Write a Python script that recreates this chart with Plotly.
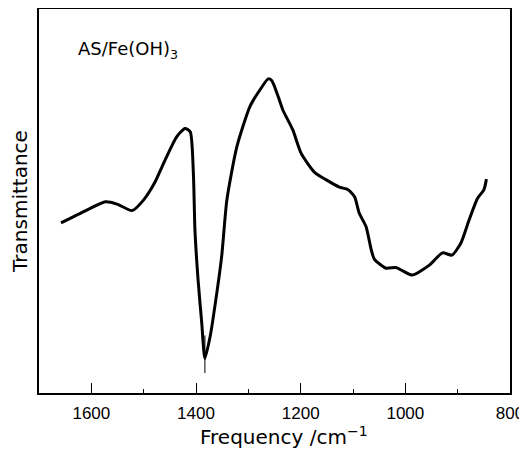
import plotly.graph_objects as go

# Wavenumber (cm^-1) and relative transmittance (arbitrary units, 0-100)
freq = [1658, 1621, 1573, 1551, 1522, 1500, 1478, 1462, 1437, 1421, 1411,
        1405, 1402, 1396, 1389, 1383, 1373, 1364, 1351, 1341, 1322, 1297,
        1278, 1262, 1255, 1243, 1234, 1215, 1199, 1173, 1151, 1126, 1110,
        1097, 1088, 1075, 1065, 1059, 1037, 1018, 1005, 987, 954, 929, 911,
        894, 878, 862, 850, 845]
trans = [44.3, 46.8, 49.8, 49.2, 47.5, 50.3, 55.0, 59.8, 66.7, 68.9, 68.0,
         57.2, 42.4, 29.4, 18.2, 9.0, 14.7, 22.5, 35.5, 50.3, 64.1, 74.6,
         78.9, 81.8, 81.3, 77.2, 73.7, 68.5, 62.4, 57.4, 55.5, 53.6, 53.0,
         51.1, 46.8, 43.3, 37.2, 34.8, 32.5, 32.7, 31.8, 30.7, 33.3, 36.5,
         35.9, 39.0, 45.1, 50.7, 52.9, 55.7]

# thin pen spike at the band minimum
spike_freq = [1383, 1383]
spike_trans = [15.0, 5.2]

x_ticks = [1600, 1400, 1200, 1000, 800]
x_tick_labels = ["1600", "1400", "1200", "1000", "800"]

fig = go.Figure()
fig.add_trace(go.Scatter(x=freq, y=trans, mode="lines",
                         line=dict(color="black", width=3, shape="spline", smoothing=0.6),
                         showlegend=False, hoverinfo="skip"))
fig.add_trace(go.Scatter(x=spike_freq, y=spike_trans, mode="lines",
                         line=dict(color="black", width=1),
                         showlegend=False, hoverinfo="skip"))

fig.add_annotation(text="AS/Fe(OH)<sub>3</sub>", xref="paper", yref="paper",
                   x=0.078, y=0.893, xanchor="left", yanchor="middle", showarrow=False,
                   font=dict(family="DejaVu Sans", size=18, color="black"))

# x-axis title (placed slightly right of centre, as in the original)
fig.add_annotation(text="Frequency /cm<sup>−1</sup>", xref="paper", yref="paper",
                   x=0.52, y=-0.112, xanchor="center", yanchor="middle", showarrow=False,
                   font=dict(family="DejaVu Sans", size=20, color="black"))

# page body has an 8px margin, so the figure is 8px smaller and shifted
fig.update_layout(
    width=519, height=442,
    margin=dict(l=31, r=17, t=1, b=57, autoexpand=False),
    paper_bgcolor="white", plot_bgcolor="white",
    showlegend=False,
    xaxis=dict(range=[1700, 800], tickvals=x_ticks, ticktext=x_tick_labels,
               automargin=False,
               ticks="inside", ticklen=10, tickwidth=1.3, tickcolor="black",
               showline=True, linecolor="black", linewidth=1.5, mirror=True,
               showgrid=False, zeroline=False,
               tickfont=dict(family="Liberation Sans", size=17, color="black"),
               ticklabelstandoff=4,
               minor=dict(tickvals=[1500, 1300, 1100, 900], ticks="inside",
                          ticklen=4, tickwidth=1.2, tickcolor="black", showgrid=False)),
    yaxis=dict(range=[0, 100], showticklabels=False, ticks="",
               automargin=False,
               showline=True, linecolor="black", linewidth=1.5, mirror=True,
               showgrid=False, zeroline=False,
               title=dict(text="Transmittance", standoff=6,
                          font=dict(family="DejaVu Sans", size=20, color="black"))),
)

fig.write_html("out.html")
